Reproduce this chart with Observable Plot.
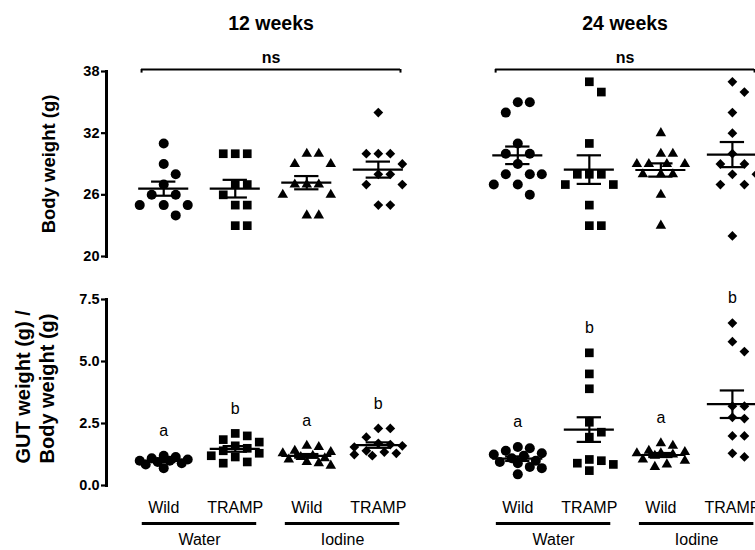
<!DOCTYPE html>
<html><head><meta charset="utf-8">
<script src="https://cdn.jsdelivr.net/npm/d3@7"></script>
<script src="https://cdn.jsdelivr.net/npm/@observablehq/plot@0.6"></script>
<style>
html,body{margin:0;padding:0;background:#fff;overflow:hidden;width:755px;height:550px}
#chart{width:807px}
#chart svg{display:block;max-width:none !important}
g[aria-label="y-axis tick label"]{font-weight:bold}
</style></head><body><div id="chart"></div>
<script>
// ---- categories & labels ----
const timepoints = ["12 weeks", "24 weeks"];
const genotypes = ["Wild", "TRAMP", "Wild", "TRAMP"];
const treatments = ["Water", "Iodine"];
const symbols = ["circle", "square", "triangle", "diamond2"];
const bodyTicks = [20, 26, 32, 38];
const ratioTicks = [0, 2.5, 5, 7.5];
const bodyStats = ["ns", "ns"];
const ratioLetters12 = ["a", "b", "a", "b"];
const ratioLetters24 = ["a", "b", "a", "b"];

// ---- body weight (g) ----
const bw12WildWater   = [31, 29, 28, 27, 26, 26, 25, 25, 25, 24];
const bw12TrampWater  = [30, 30, 30, 27, 27, 26, 25, 25, 23, 23];
const bw12WildIodine  = [30, 30, 29, 29, 27, 27, 27, 26, 26, 24, 24];
const bw12TrampIodine = [34, 30, 30, 30, 29, 28, 28, 27, 27, 25, 25];
const bw24WildWater   = [35, 35, 34, 31, 30, 30, 29, 28, 28, 28, 27, 27, 26];
const bw24TrampWater  = [37, 36, 31, 28, 28, 28, 27, 27, 25, 23, 23];
const bw24WildIodine  = [32, 30, 30, 29, 29, 29, 29, 28, 28, 28, 26, 23];
const bw24TrampIodine = [37, 36, 34, 32, 30, 29, 29, 28, 28, 27, 27, 22];

// ---- GUT weight / body weight ----
const gr12WildWater   = [1.2, 1.15, 1.1, 1.05, 1.0, 1.0, 0.95, 0.9, 0.85, 0.7];
const gr12TrampWater  = [2.1, 2.0, 1.85, 1.75, 1.6, 1.5, 1.4, 1.3, 1.2, 1.15, 0.95, 0.9];
const gr12WildIodine  = [1.6, 1.55, 1.4, 1.35, 1.3, 1.2, 1.15, 1.1, 1.05, 0.95, 0.9, 0.8];
const gr12TrampIodine = [2.3, 2.3, 1.95, 1.7, 1.65, 1.6, 1.55, 1.4, 1.35, 1.3, 1.25, 1.2];
const gr24WildWater   = [1.55, 1.5, 1.4, 1.3, 1.25, 1.2, 1.1, 1.0, 0.95, 0.9, 0.75, 0.7, 0.45];
const gr24TrampWater  = [5.35, 4.5, 3.9, 2.55, 2.15, 1.95, 1.05, 1.0, 0.9, 0.85, 0.6];
const gr24WildIodine  = [1.7, 1.6, 1.4, 1.35, 1.3, 1.3, 1.25, 1.2, 1.05, 1.0, 0.85, 0.75];
const gr24TrampIodine = [6.55, 5.8, 5.4, 3.2, 3.2, 2.75, 2.7, 2.0, 2.0, 1.3, 1.15];

const bodySeries = [bw12WildWater, bw12TrampWater, bw12WildIodine, bw12TrampIodine,
                    bw24WildWater, bw24TrampWater, bw24WildIodine, bw24TrampIodine];
const ratioSeries = [gr12WildWater, gr12TrampWater, gr12WildIodine, gr12TrampIodine,
                     gr24WildWater, gr24TrampWater, gr24WildIodine, gr24TrampIodine];
const ratioLetters = [...ratioLetters12, ...ratioLetters24];

// ---- layout ----
const FONT = "'Liberation Sans', Arial, Helvetica, sans-serif";
const W = 807, ML = 106, MR = 0, XD = [-0.8, 9];
const T_GAP = 4.95; // distance between the two time blocks, in group slots
const pxPerUnit = (W - ML - MR) / (XD[1] - XD[0]);
const symR = {circle: 5, square: 4.9, triangle: 3.9, diamond2: 4.4};

// scatter-dot layout: offset points that overlap, keeping each group narrow
function dodge(values, yPx, step = 6, maxSteps = 4, dyMin = 10.5, dxMin = 11.5) {
  const placed = [];
  const off = new Array(values.length);
  const order = values.map((v, i) => i).sort((a, b) => values[b] - values[a]);
  const cands = [0];
  for (let k = 1; k <= maxSteps; k++) cands.push(k * step, -k * step);
  for (const i of order) {
    const y = yPx(values[i]);
    let best = null, bestScore = -Infinity;
    for (const c of cands) {
      const hits = placed.filter(p => Math.abs(p.y - y) < dyMin && Math.abs(p.x - c) < dxMin);
      if (hits.length === 0) { best = c; break; }
      const score = d3.min(hits, p => Math.hypot(p.x - c, p.y - y));
      if (score > bestScore) { bestScore = score; best = c; }
    }
    off[i] = best; placed.push({x: best, y});
  }
  return off;
}

function build(series, yDomain, H, mt, mb) {
  const yPx = v => mt + (yDomain[1] - v) / (yDomain[1] - yDomain[0]) * (H - mt - mb);
  const pts = [], stats = [];
  series.forEach((vals, idx) => {
    const t = Math.floor(idx / 4), g = idx % 4, c = t * T_GAP + g;
    const off = dodge(vals, yPx);
    vals.forEach((v, i) => pts.push({x: c + off[i] / pxPerUnit, y: v, sym: symbols[g]}));
    const mean = d3.mean(vals), sem = d3.deviation(vals) / Math.sqrt(vals.length);
    stats.push({c, t, g, mean, lo: mean - sem, hi: mean + sem, max: d3.max(vals)});
  });
  return {pts, stats};
}

function groupMarks(pts, stats) {
  const marks = symbols.map(s => Plot.dot(pts.filter(p => p.sym === s),
    {x: "x", y: "y", symbol: s, r: symR[s], fill: "black", stroke: "none"}));
  marks.push(
    Plot.ruleY(stats, {y: "mean", x1: d => d.c - 0.35, x2: d => d.c + 0.35, strokeWidth: 2.2, stroke: "black"}),
    Plot.ruleY(stats, {y: "hi", x1: d => d.c - 0.17, x2: d => d.c + 0.17, strokeWidth: 2.2, stroke: "black"}),
    Plot.ruleY(stats, {y: "lo", x1: d => d.c - 0.17, x2: d => d.c + 0.17, strokeWidth: 2.2, stroke: "black"}),
    Plot.ruleX(stats, {x: "c", y1: "lo", y2: "hi", strokeWidth: 2.2, stroke: "black"})
  );
  return marks;
}

function yAxisMarks(ticks, fmt) {
  return [
    Plot.frame({anchor: "left", strokeWidth: 3, stroke: "black"}),
    Plot.axisY({ticks, tickFormat: fmt, tickSize: 5, tickPadding: 2, fontSize: 14.5,
      fontWeight: "bold", strokeWidth: 2.2, label: null, fill: "black"})
  ];
}

// ---- top plot: body weight ----
const TOPCFG = {H: 270, mt: 71, mb: 14, yd: [20, 38]};
const topData = build(bodySeries, TOPCFG.yd, TOPCFG.H, TOPCFG.mt, TOPCFG.mb);
const bracketEnds = timepoints.flatMap((d, i) => [i * T_GAP - 0.31, i * T_GAP + 3.31]);

const topPlot = Plot.plot({
  width: W, height: TOPCFG.H, marginLeft: ML, marginRight: MR, marginTop: TOPCFG.mt, marginBottom: TOPCFG.mb,
  style: {fontFamily: FONT, color: "black", background: "white", overflow: "visible", maxWidth: "none"},
  x: {domain: XD, axis: null},
  y: {domain: TOPCFG.yd, axis: null},
  marks: [
    ...yAxisMarks(bodyTicks, d => d),
    ...groupMarks(topData.pts, topData.stats),
    Plot.text(timepoints, {x: (d, i) => i * T_GAP + 1.5, text: d => d, frameAnchor: "top", dy: -48,
      fontSize: 19.5, fontWeight: "bold", fill: "black", lineAnchor: "middle"}),
    Plot.text(bodyStats, {x: (d, i) => i * T_GAP + 1.5, text: d => d, frameAnchor: "top", dy: -14,
      fontSize: 16, fontWeight: "bold", fill: "black", lineAnchor: "middle"}),
    Plot.ruleY(timepoints, {y: () => TOPCFG.yd[1], x1: (d, i) => i * T_GAP - 0.31, x2: (d, i) => i * T_GAP + 3.31,
      dy: -2, strokeWidth: 2, stroke: "black"}),
    Plot.ruleX(bracketEnds, {x: d => d, y1: () => TOPCFG.yd[1], y2: () => TOPCFG.yd[1] - 0.35, dy: -2,
      strokeWidth: 2, stroke: "black"}),
    Plot.text(["Body weight (g)"], {frameAnchor: "left", rotate: -90, dx: -57,
      textAnchor: "middle", lineAnchor: "middle",
      fontSize: 18.5, fontWeight: "bold", fill: "black"})
  ]
});

// ---- bottom plot: GUT / body weight ----
const BOTCFG = {H: 280, mt: 29, mb: 65, yd: [0, 7.5]};
const botData = build(ratioSeries, BOTCFG.yd, BOTCFG.H, BOTCFG.mt, BOTCFG.mb);
const genoLabels = timepoints.flatMap((t, ti) => genotypes.map((g, gi) => ({x: ti * T_GAP + gi, label: g})));
const treatBars = timepoints.flatMap((t, ti) => treatments.map((tr, k) => ({
  x1: ti * T_GAP + 2 * k - 0.3, x2: ti * T_GAP + 2 * k + 1.3, mid: ti * T_GAP + 2 * k + 0.5, label: tr})));

const botPlot = Plot.plot({
  width: W, height: BOTCFG.H, marginLeft: ML, marginRight: MR, marginTop: BOTCFG.mt, marginBottom: BOTCFG.mb,
  style: {fontFamily: FONT, color: "black", background: "white", overflow: "visible", maxWidth: "none"},
  x: {domain: XD, axis: null},
  y: {domain: BOTCFG.yd, axis: null},
  marks: [
    ...yAxisMarks(ratioTicks, d3.format(".1f")),
    ...groupMarks(botData.pts, botData.stats),
    Plot.text(botData.stats, {x: "c", y: "max", text: (d, i) => ratioLetters[i], dy: -25,
      fontSize: 16, fill: "black"}),
    Plot.text(genoLabels, {x: "x", text: "label", frameAnchor: "bottom", dy: 22.5,
      fontSize: 16, fill: "black", lineAnchor: "middle"}),
    Plot.ruleY(treatBars, {y: () => BOTCFG.yd[0], x1: "x1", x2: "x2", dy: 38, strokeWidth: 3, stroke: "black"}),
    Plot.text(treatBars, {x: "mid", text: "label", frameAnchor: "bottom", dy: 54,
      fontSize: 16, fill: "black", lineAnchor: "middle"}),
    Plot.text(["GUT weight (g) /"], {frameAnchor: "bottom-left", rotate: -90, dx: -83, dy: -22,
      textAnchor: "start", lineAnchor: "middle", fontSize: 20, fontWeight: "bold", fill: "black"}),
    Plot.text(["Body weight (g)"], {frameAnchor: "bottom-left", rotate: -90, dx: -59, dy: -22,
      textAnchor: "start", lineAnchor: "middle", fontSize: 20, fontWeight: "bold", fill: "black"})
  ]
});

const chart = document.getElementById("chart");
chart.append(topPlot, botPlot);
</script></body></html>
